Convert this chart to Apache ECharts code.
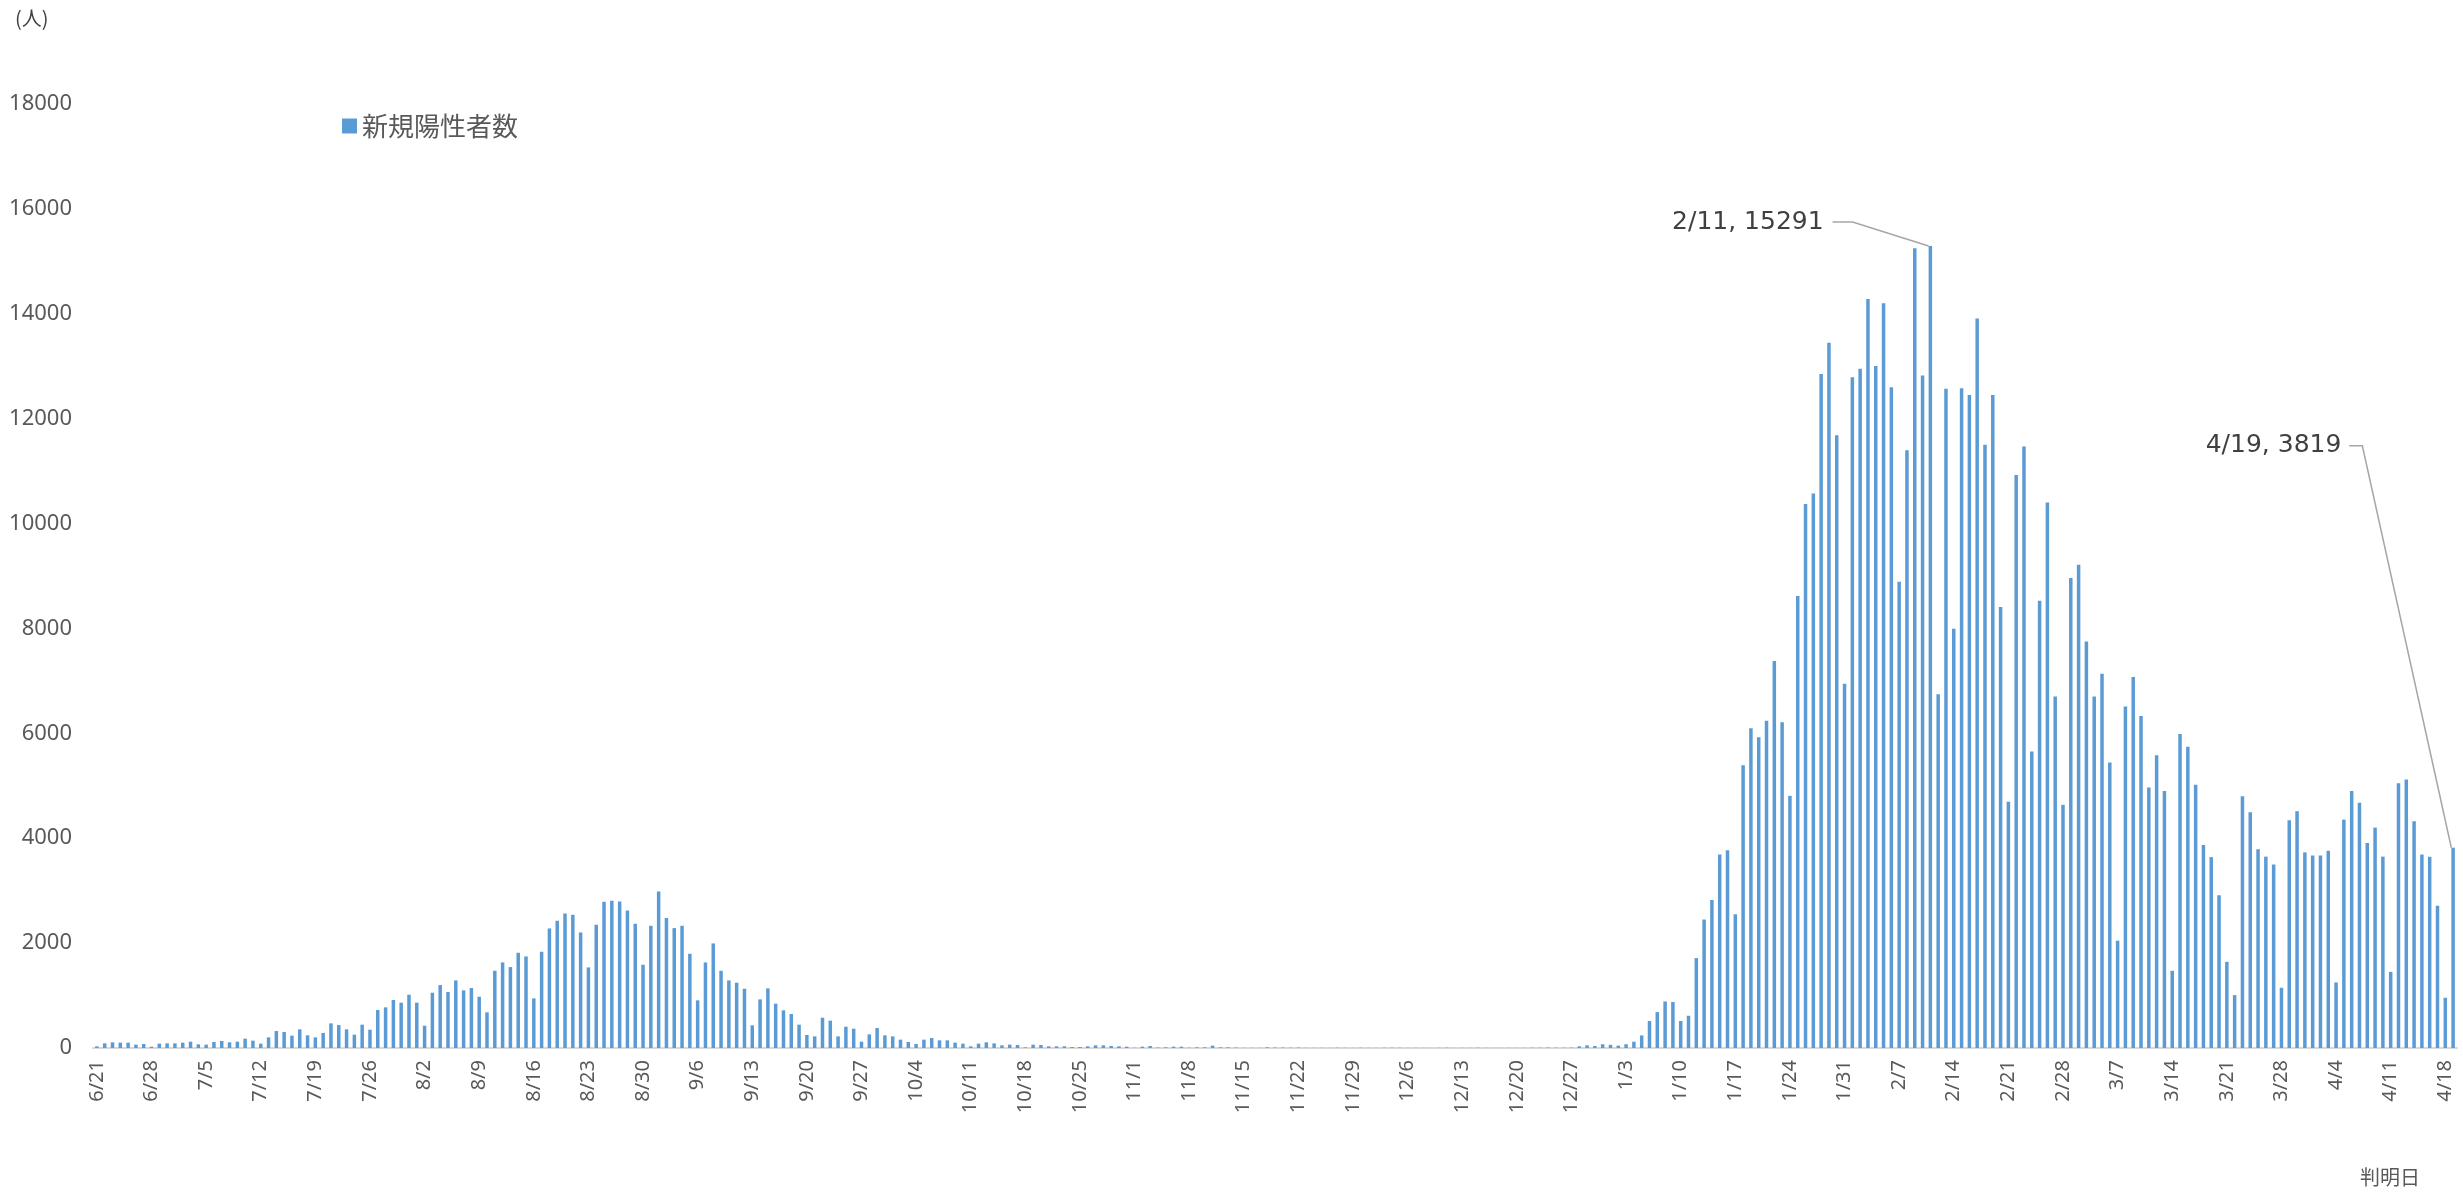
<!DOCTYPE html>
<html>
<head>
<meta charset="utf-8">
<script src="https://cdn.jsdelivr.net/npm/echarts@6/dist/echarts.min.js"></script>
<style>
  body { margin: 0; background: #fff; }
  #chart { width: 2463px; height: 1192px; }
</style>
</head>
<body>
<div id="chart"></div>
<script>
// 新規陽性者数 (判明日ごと)
const months = [6, 7, 8, 9, 10, 11, 12, 1, 2, 3, 4]
const firstDay = [21, 1, 1, 1, 1, 1, 1, 1, 1, 1, 1]

const jun = [32, 89, 108, 102, 102, 64, 76, 25, 83, 89]
const jul = [89, 102, 121, 70, 64, 114, 133, 108, 121, 178, 140, 83, 203, 324, 305, 235, 356, 241, 203, 286,
  470, 438, 356, 254, 445, 349, 724, 775, 915, 864, 1016]
const aug = [864, 425, 1054, 1200, 1067, 1289, 1099, 1143, 978, 680, 1473, 1632, 1543, 1816, 1746, 946, 1835,
  2280, 2426, 2565, 2540, 2203, 1537, 2350, 2788, 2807, 2794, 2622, 2369, 1588, 2330]
const sep = [2985, 2477, 2286, 2330, 1797, 908, 1632, 1994, 1473, 1289, 1245, 1130, 432, 927, 1137, 845, 718,
  648, 445, 248, 222, 578, 521, 222, 406, 368, 121, 260, 381, 241]
const oct = [222, 159, 114, 76, 159, 190, 146, 146, 102, 83, 32, 83, 108, 89, 51, 64, 57, 13, 64, 57, 32, 32,
  32, 19, 19, 32, 51, 51, 38, 32, 25]
const nov = [5, 25, 38, 8, 13, 25, 25, 5, 13, 13, 45, 13, 13, 8, 3, 3, 3, 13, 8, 8, 5, 8, 3, 2, 3, 2, 5, 3, 2, 4]
const dec = [3, 2, 5, 5, 5, 2, 3, 2, 1, 3, 5, 2, 3, 2, 5, 3, 2, 2, 3, 2, 3, 6, 5, 8, 6, 5, 7, 32, 51, 38, 72]
const jan = [60, 45, 72, 120, 240, 514, 685, 887, 877, 514, 615, 1714, 2450, 2822, 3689, 3770, 2550, 5393, 6098,
  5927, 6240, 7379, 6209, 4808, 8618, 10372, 10574, 12852, 13447, 11683, 6945]
const feb = [12792, 12953, 14283, 13003, 14203, 12600, 8891, 11400, 15251, 12822, 15291, 6744, 12570, 7993,
  12580, 12449, 13910, 11501, 12449, 8407, 4697, 10927, 11471, 5655, 8528, 10403, 6703, 4637]
const mar = [8961, 9213, 7752, 6703, 7137, 5443, 2046, 6512, 7076, 6330, 4969, 5584, 4899, 1472, 5988, 5746,
  5020, 3871, 3639, 2913, 1643, 1008, 4798, 4496, 3790, 3649, 3498, 1149, 4344, 4516, 3730]
const apr = [3669, 3669, 3760, 1250, 4355, 4899, 4677, 3911, 4203, 3649, 1452, 5050, 5121, 4324, 3689, 3649,
  2712, 958, 3819]

const monthValues = [jun, jul, aug, sep, oct, nov, dec, jan, feb, mar, apr]
const yTicks = [0, 2000, 4000, 6000, 8000, 10000, 12000, 14000, 16000, 18000]
// callout labels: where the text sits relative to the bar top, and the leader line shape
const callouts = [
  { name: '2/11', dx: -105, dy: -24, gap: 9, seg: 20 },
  { name: '4/19', dx: -110, dy: -402, gap: 8, seg: 13 }
]
const barWidth = 3.5

let categories = []
let values = []
monthValues.forEach(function (arr, m) {
  arr.forEach(function (v, d) {
    categories.push(months[m] + '/' + (firstDay[m] + d))
    values.push(v)
  })
})

function findCallout (name) {
  return callouts.filter(function (c) { return c.name === name })[0]
}

const seriesData = values.map(function (v, i) {
  if (!findCallout(categories[i])) return v
  return { value: v, label: { show: true } }
})

let mychart = echarts.init(document.getElementById('chart'))
mychart.setOption({
  backgroundColor: '#fff',
  animation: false,
  textStyle: { fontFamily: "'Noto Sans', 'Noto Sans CJK JP', sans-serif" },
  title: [{
    text: '(人)',
    left: 10,
    top: 3,
    textStyle: { fontSize: 20, fontWeight: 'normal', color: '#404040', fontFamily: "'Noto Sans CJK JP', sans-serif" }
  }, {
    text: '判明日',
    left: 2355,
    top: 1162,
    textStyle: { fontSize: 20, fontWeight: 'normal', color: '#595959', fontFamily: "'Noto Sans CJK JP', sans-serif" }
  }],
  legend: {
    left: 337,
    top: 108,
    icon: 'rect',
    itemWidth: 15,
    itemHeight: 15,
    itemGap: 8,
    data: ['新規陽性者数'],
    textStyle: { fontSize: 26, color: '#595959', fontFamily: "'Noto Sans CJK JP', sans-serif" }
  },
  grid: {
    left: 93,
    right: 6,
    top: 104,
    bottom: 144,
    containLabel: false
  },
  xAxis: [{
    type: 'category',
    data: categories,
    axisLine: { lineStyle: { color: '#d9d9d9', width: 2 } },
    axisTick: { show: false },
    axisLabel: {
      rotate: 90,
      interval: 6,
      margin: 12,
      fontSize: 20,
      color: '#595959'
    }
  }],
  yAxis: [{
    type: 'value',
    min: yTicks[0],
    max: yTicks[yTicks.length - 1],
    interval: yTicks[1] - yTicks[0],
    axisLine: { show: false },
    axisTick: { show: false },
    splitLine: { show: false },
    axisLabel: {
      fontSize: 22,
      color: '#595959',
      margin: 21,
      formatter: function (v) { return String(v) }
    }
  }],
  series: [{
    name: '新規陽性者数',
    type: 'bar',
    barWidth: barWidth,
    itemStyle: { color: '#5B9BD5' },
    label: {
      show: false,
      formatter: '{b}, {c}',
      fontSize: 25,
      fontFamily: "'DejaVu Sans', sans-serif",
      color: '#404040'
    },
    labelLayout: function (p) {
      const c = findCallout(categories[p.dataIndex])
      if (c) {
        return { x: p.rect.x + c.dx, y: p.rect.y + c.dy, align: 'right', verticalAlign: 'middle' }
      }
    },
    data: seriesData
  }]
})

// leader lines from each callout text to the top-left corner of its bar
const lines = callouts.map(function (c) {
  const i = categories.indexOf(c.name)
  const top = mychart.convertToPixel({ gridIndex: 0 }, [i, values[i]])
  const left = top[0] - barWidth / 2
  const textEnd = left + c.dx
  const y = top[1] + c.dy
  return {
    type: 'polyline',
    silent: true,
    shape: { points: [[textEnd + c.gap, y], [textEnd + c.gap + c.seg, y], [left, top[1]]] },
    style: { stroke: '#a6a6a6', lineWidth: 1.5, fill: null }
  }
})
mychart.setOption({ graphic: lines })
</script>
</body>
</html>
